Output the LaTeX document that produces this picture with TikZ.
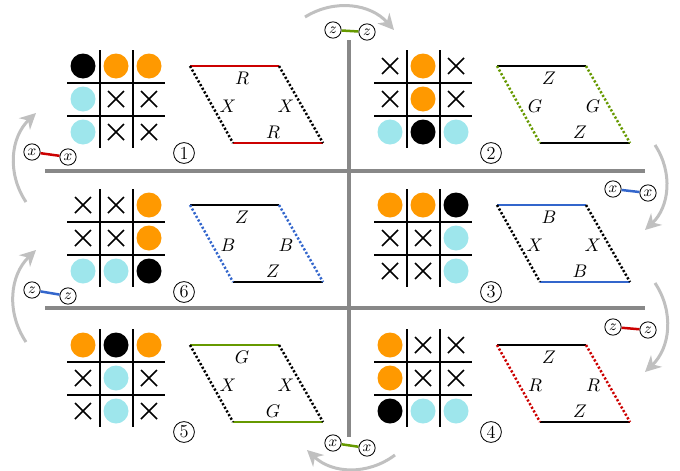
\documentclass[tikz,border=0pt]{standalone}
\usetikzlibrary{arrows.meta}
\definecolor{dotorange}{HTML}{FF9900}
\definecolor{dotcyan}{HTML}{9EE6EC}
\definecolor{linkred}{HTML}{CC0000}
\definecolor{linkblue}{HTML}{3366CC}
\definecolor{linkgreen}{HTML}{669900}
\definecolor{divgray}{HTML}{888888}
\definecolor{arrowgray}{HTML}{C0C0C0}

\begin{document}
\begin{tikzpicture}[x=0.6pt, y=-0.6pt,
  gridline/.style={line width=1.2pt},
  cross/.style={line width=0.9pt},
  edge/.style={line width=1.4pt},
  side/.style={line width=1.5pt, dash pattern=on 1.3pt off 1.2pt},
  lbl/.style={inner sep=0pt, font=\fontsize{11}{13}\selectfont},
  numcirc/.style={circle, draw, line width=0.5pt, inner sep=0pt, minimum size=12.5pt, font=\fontsize{11}{13}\selectfont},
  endpt/.style={circle, draw, line width=0.5pt, fill=white, inner sep=0pt, minimum size=9.8pt, font=\small},
  link/.style={line width=1.5pt},
  divider/.style={divgray, line width=2.2pt},
  turn/.style={arrowgray, line width=1.8pt, -{Stealth[length=9.5pt, width=9.5pt, inset=3pt]}}]

  \useasboundingbox (0,0) rectangle (680,470);

  % Dividers between the six panels
  \draw[divider] (45,171) -- (645,171);
  \draw[divider] (45,308) -- (645,308);
  \draw[divider] (349,40) -- (349,437);

  % Panels: number / offset / cells (0 cross, 1 orange, 2 black, 3 cyan) / edge colour, label / side colour, label
  \foreach \n/\dx/\dy/\cells/\hc/\hl/\sc/\sl in {
      1/0/0/{2,1,1,3,0,0,3,0,0}/linkred/R/black/X,
      2/307/0/{0,1,0,0,1,0,3,2,3}/black/Z/linkgreen/G,
      6/0/139/{0,0,1,0,0,1,3,3,2}/black/Z/linkblue/B,
      3/307/139/{1,1,2,0,0,3,0,0,3}/linkblue/B/black/X,
      5/0/279/{1,2,1,0,3,0,0,3,0}/linkgreen/G/black/X,
      4/307/279/{1,0,0,1,0,0,2,3,3}/black/Z/linkred/R} {
    \begin{scope}[shift={(\dx,\dy)}]
      % 3x3 board
      \draw[gridline] (99.5,50) -- (99.5,148) (132.5,50) -- (132.5,148)
        (67,82.5) -- (165,82.5) (67,115.5) -- (165,115.5);
      \foreach \c [count=\i from 0] in \cells {
        \pgfmathtruncatemacro\col{mod(\i,3)}
        \pgfmathtruncatemacro\row{\i/3}
        \pgfmathsetmacro\cx{83+33*\col}
        \pgfmathsetmacro\cy{66+33*\row}
        \ifcase\c
          \draw[cross] (\cx-8,\cy-8) -- (\cx+8,\cy+8) (\cx-8,\cy+8) -- (\cx+8,\cy-8);
        \or \fill[dotorange] (\cx,\cy) circle (7.5pt);
        \or \fill[black] (\cx,\cy) circle (7.5pt);
        \or \fill[dotcyan] (\cx,\cy) circle (7.5pt);
        \fi
      }
      \node[numcirc] (n\n) at (184,153) {\n};

      % parallelogram with glued edges
      \coordinate (p\n-tl) at (190,66);
      \coordinate (p\n-tr) at (279,66);
      \coordinate (p\n-br) at (323,143);
      \coordinate (p\n-bl) at (233,143);
      \draw[edge, draw=\hc] (p\n-tl) -- (p\n-tr) (p\n-bl) -- (p\n-br);
      \draw[side, draw=\sc] (p\n-tl) -- (p\n-bl) (p\n-tr) -- (p\n-br);
      \node[lbl] (t\n) at (242,78) {$\hl$};
      \node[lbl] (b\n) at (273,132) {$\hl$};
      \node[lbl] (l\n) at (228,106) {$\sl$};
      \node[lbl] (r\n) at (286,106) {$\sl$};
    \end{scope}
  }

  % Small two-point links
  \foreach \k/\ax/\ay/\bx/\by/\v/\lc in {
      1/32/152/68/157/x/linkred,
      2/333/30/367/32/z/linkgreen,
      3/613/189/648/193/x/linkblue,
      4/613/327/648/330/z/linkred,
      5/333/443/367/448/x/linkgreen,
      6/32/290/68/296/z/linkblue} {
    \node[endpt] (e\k a) at (\ax,\ay) {$\v$};
    \node[endpt] (e\k b) at (\bx,\by) {$\v$};
    \draw[link, draw=\lc] (e\k a) -- (e\k b);
  }

  % Turning arrows, clockwise
  \foreach \k/\sx/\sy/\tx/\ty in {
      1/305/17/394/30, 2/655/145/645/230, 3/655/283/645/372,
      4/395/455/307/450, 5/26/342/36/250, 6/26/202/36/113} {
    \coordinate (s\k) at (\sx,\sy);
    \coordinate (f\k) at (\tx,\ty);
    \draw[turn] (s\k) to[bend left=40] (f\k);
  }
\end{tikzpicture}
\end{document}
